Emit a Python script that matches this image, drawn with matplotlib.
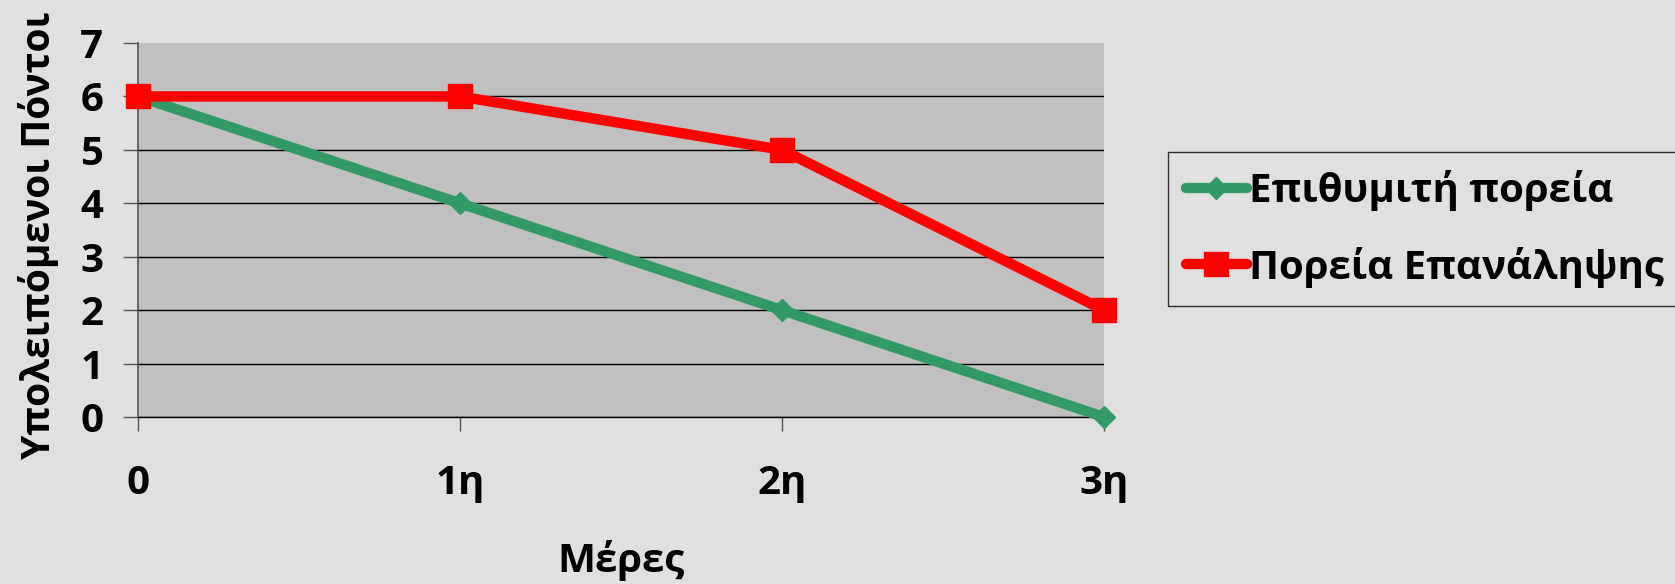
import matplotlib
matplotlib.use('Agg')
import matplotlib.pyplot as plt

# Δεδομένα
days = ['0', '1η', '2η', '3η']
desired = [6, 4, 2, 0]
actual = [6, 6, 5, 2]
yticks = [0, 1, 2, 3, 4, 5, 6, 7]

plt.rcParams['font.family'] = ['Open Sans', 'DejaVu Sans']
plt.rcParams['font.weight'] = 'bold'

W, H = 1675, 584
fs = 29
fig = plt.figure(figsize=(W / 100, H / 100), dpi=100, facecolor='#E0E0E0')
ax = fig.add_axes([138 / W, 1 - 417 / H, (1104 - 138) / W, (417 - 43) / H])
ax.set_facecolor('#C0C0C0')

x = list(range(len(days)))
ax.plot(x, desired, color='#339966', linewidth=7.5, marker='D', markersize=11.5,
        solid_capstyle='round', clip_on=False, zorder=3, label='Επιθυμιτή πορεία')
ax.plot(x, actual, color='#FF0000', linewidth=7.5, marker='s', markersize=17,
        solid_capstyle='round', clip_on=False, zorder=4, label='Πορεία Επανάληψης')

ax.set_xlim(0, 3)
ax.set_ylim(0, 7)
ax.set_xticks(x)
ax.set_xticklabels(days)
ax.set_yticks(yticks)

ax.yaxis.grid(True, color='black', linewidth=1)
ax.set_axisbelow(True)
ax.get_ygridlines()[-1].set_visible(False)

for s in ['top', 'right']:
    ax.spines[s].set_visible(False)
ax.spines['left'].set_color('#555555')
ax.spines['left'].set_linewidth(1.2)
ax.spines['bottom'].set_color('black')
ax.spines['bottom'].set_linewidth(1)

ax.tick_params(axis='y', length=11, width=1, color='#555555', pad=14, labelsize=fs)
ax.tick_params(axis='x', length=10, width=1, color='#555555', pad=24, labelsize=fs)

ax.set_ylabel('Υπολειπόμενοι Πόντοι', fontsize=28, fontweight='bold', va='center')
ax.yaxis.set_label_coords(-0.1025, 0.485)
ax.set_xlabel('Μέρες', fontsize=fs, fontweight='bold', va='center')
ax.xaxis.set_label_coords(0.5, -0.385)

leg = fig.legend(loc='upper left', bbox_to_anchor=(1168 / W, 1 - 152 / H),
                 bbox_transform=fig.transFigure, borderaxespad=0,
                 fontsize=fs, frameon=True, fancybox=False, handlelength=1.5,
                 handletextpad=0.05, labelspacing=0.88, borderpad=0.45)
leg.get_frame().set_edgecolor('black')
leg.get_frame().set_facecolor('#E0E0E0')
leg.get_frame().set_linewidth(1)

fig.savefig('out.png', dpi=100, facecolor=fig.get_facecolor())
